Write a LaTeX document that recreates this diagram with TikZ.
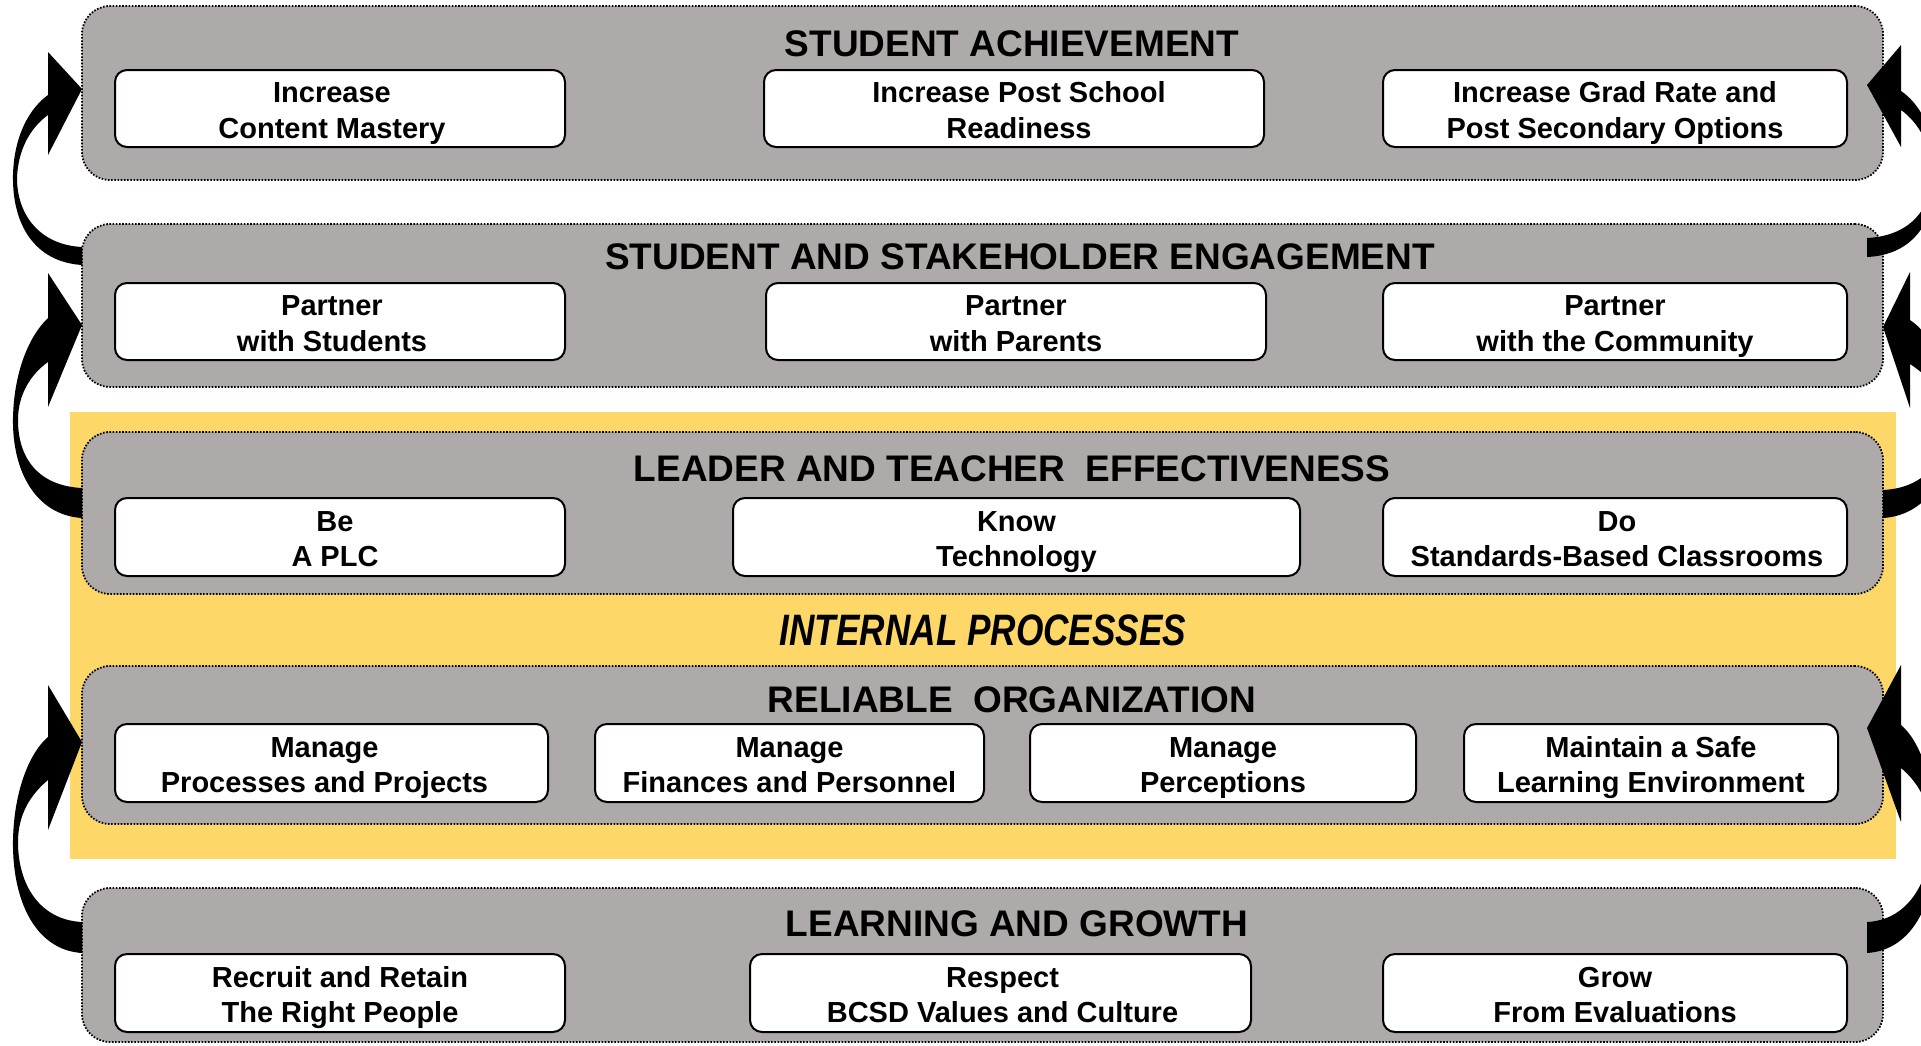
\documentclass[tikz,border=0pt]{standalone}
\usepackage{fontspec}
\setmainfont{Liberation Sans}
\definecolor{panelgray}{RGB}{174,170,169}
\definecolor{gold}{RGB}{253,216,104}
\newcommand\twolines[2]{\rule{0pt}{29.9pt}#1\\#2\rule[-6.1pt]{0pt}{6.1pt}}
\begin{document}
\begin{tikzpicture}[x=1pt,y=-1pt,
 panel/.style={draw=black, fill=panelgray, line width=1.8pt, dash pattern=on 1.6pt off 1.6pt, rounded corners=28pt, minimum width=1801pt, inner sep=0pt},
 box/.style={draw=black, fill=white, line width=2pt, rounded corners=12pt, inner sep=0pt},
 btxt/.style={align=center, inner sep=0pt, font=\fontsize{29}{35.5}\selectfont\bfseries},
 ttl/.style={font=\fontsize{37}{40}\selectfont\bfseries, inner sep=0pt},
 bigarrow/.style={fill=black, draw=none}]
\useasboundingbox (0,0) rectangle (1921,1045);
% yellow band
\fill[gold] (70,412) rectangle (1896,859);
% panels
\node[panel, minimum height=174pt] (p1) at (982.5,93) {};
\node[panel, minimum height=163pt] (p2) at (982.5,305.5) {};
\node[panel, minimum height=162pt] (p3) at (982.5,513) {};
\node[panel, minimum height=158pt] (p4) at (982.5,745) {};
\node[panel, minimum height=154pt] (p5) at (982.5,965) {};
% titles
\node[ttl] (t1) at (1012,44) {STUDENT ACHIEVEMENT};
\node[ttl] (t2) at (1020,257) {STUDENT AND STAKEHOLDER ENGAGEMENT};
\node[ttl] (t3) at (1012,469) {LEADER AND TEACHER~ EFFECTIVENESS};
\node[inner sep=0pt] (ip) at (983,630) {\scalebox{0.8}[1]{\fontsize{44}{48}\selectfont\bfseries\itshape INTERNAL PROCESSES}};
\node[ttl] (t4) at (1012,700) {RELIABLE~ ORGANIZATION};
\node[ttl] (t5) at (1017,924) {LEARNING AND GROWTH};
% row 1
\node[box, minimum width=450pt, minimum height=77pt] (r1a) at (340,108.5) {};
\node[btxt] (r1at) at ([xshift=-8pt]r1a.center) {\twolines{Increase}{Content Mastery}};
\node[box, minimum width=500pt, minimum height=77pt] (r1b) at (1014,108.5) {};
\node[btxt] (r1bt) at ([xshift=5pt]r1b.center) {\twolines{Increase Post School}{Readiness}};
\node[box, minimum width=464pt, minimum height=77pt] (r1c) at (1615,108.5) {};
\node[btxt] (r1ct) at (r1c.center) {\twolines{Increase Grad Rate and}{Post Secondary Options}};
% row 2
\node[box, minimum width=450pt, minimum height=77pt] (r2a) at (340,321.5) {};
\node[btxt] (r2at) at ([xshift=-8pt]r2a.center) {\twolines{Partner}{with Students}};
\node[box, minimum width=500pt, minimum height=77pt] (r2b) at (1016,321.5) {};
\node[btxt] (r2bt) at (r2b.center) {\twolines{Partner}{with Parents}};
\node[box, minimum width=464pt, minimum height=77pt] (r2c) at (1615,321.5) {};
\node[btxt] (r2ct) at (r2c.center) {\twolines{Partner}{with the Community}};
% row 3
\node[box, minimum width=450pt, minimum height=78pt] (r3a) at (340,537) {};
\node[btxt] (r3at) at ([xshift=-5pt]r3a.center) {\twolines{Be}{A PLC}};
\node[box, minimum width=567pt, minimum height=78pt] (r3b) at (1016.5,537) {};
\node[btxt] (r3bt) at (r3b.center) {\twolines{Know}{Technology}};
\node[box, minimum width=464pt, minimum height=78pt] (r3c) at (1615,537) {};
\node[btxt] (r3ct) at ([xshift=2pt]r3c.center) {\twolines{Do}{Standards-Based Classrooms}};
% row 4
\node[box, minimum width=433pt, minimum height=78pt] (r4a) at (331.5,763) {};
\node[btxt] (r4at) at ([xshift=-7pt]r4a.center) {\twolines{Manage}{Processes and Projects}};
\node[box, minimum width=389pt, minimum height=78pt] (r4b) at (789.5,763) {};
\node[btxt] (r4bt) at (r4b.center) {\twolines{Manage}{Finances and Personnel}};
\node[box, minimum width=386pt, minimum height=78pt] (r4c) at (1223,763) {};
\node[btxt] (r4ct) at (r4c.center) {\twolines{Manage}{Perceptions}};
\node[box, minimum width=374pt, minimum height=78pt] (r4d) at (1651,763) {};
\node[btxt] (r4dt) at (r4d.center) {\twolines{Maintain a Safe}{Learning Environment}};
% row 5
\node[box, minimum width=450pt, minimum height=78pt] (r5a) at (340,993) {};
\node[btxt] (r5at) at (r5a.center) {\twolines{Recruit and Retain}{The Right People}};
\node[box, minimum width=501pt, minimum height=78pt] (r5b) at (1000.5,993) {};
\node[btxt] (r5bt) at ([xshift=2pt]r5b.center) {\twolines{Respect}{BCSD Values and Culture}};
\node[box, minimum width=464pt, minimum height=78pt] (r5c) at (1615,993) {};
\node[btxt] (r5ct) at (r5c.center) {\twolines{Grow}{From Evaluations}};
% left curved arrows
\fill[bigarrow] (82,265) .. controls (35,262) and (12,225) .. (13,175) .. controls (14,135) and (30,108) .. (48,95) -- (48,52) -- (82,89) -- (48,155) -- (48,115) .. controls (30,128) and (18,150) .. (17,178) .. controls (17,215) and (40,245) .. (82,247) -- cycle;
\fill[bigarrow] (82,518) .. controls (35,515) and (12,470) .. (13,418) .. controls (14,370) and (30,335) .. (48,318) -- (48,273) -- (82,325) -- (48,407) -- (48,362) .. controls (30,375) and (18,395) .. (18,420) .. controls (18,460) and (40,486) .. (82,488) -- cycle;
\fill[bigarrow] (82,953) .. controls (35,950) and (12,900) .. (13,840) .. controls (14,790) and (30,752) .. (48,737) -- (48,685) -- (82,742) -- (48,830) -- (48,780) .. controls (30,795) and (18,815) .. (18,842) .. controls (18,885) and (40,920) .. (82,922) -- cycle;
% right curved arrows
\begin{scope}
\clip (0,0) rectangle (1921,1045);
\fill[bigarrow] (1867,257) .. controls (1914,255) and (1937,220) .. (1936,170) .. controls (1935,130) and (1919,103) .. (1901,91) -- (1901,45) -- (1867,85) -- (1901,147) -- (1901,110) .. controls (1919,123) and (1931,145) .. (1932,173) .. controls (1932,210) and (1909,236) .. (1867,238) -- cycle;
\fill[bigarrow] (1883,518) .. controls (1930,515) and (1953,470) .. (1952,418) .. controls (1951,370) and (1930,333) .. (1910,320) -- (1910,272) -- (1883,327) -- (1910,408) -- (1910,364) .. controls (1930,377) and (1947,397) .. (1947,420) .. controls (1947,460) and (1925,488) .. (1883,490) -- cycle;
\fill[bigarrow] (1867,953) .. controls (1914,950) and (1937,900) .. (1936,835) .. controls (1935,780) and (1919,740) .. (1901,725) -- (1901,665) -- (1867,728) -- (1901,822) -- (1901,768) .. controls (1919,783) and (1931,805) .. (1931,835) .. controls (1931,880) and (1909,920) .. (1867,922) -- cycle;
\end{scope}
\end{tikzpicture}
\end{document}
